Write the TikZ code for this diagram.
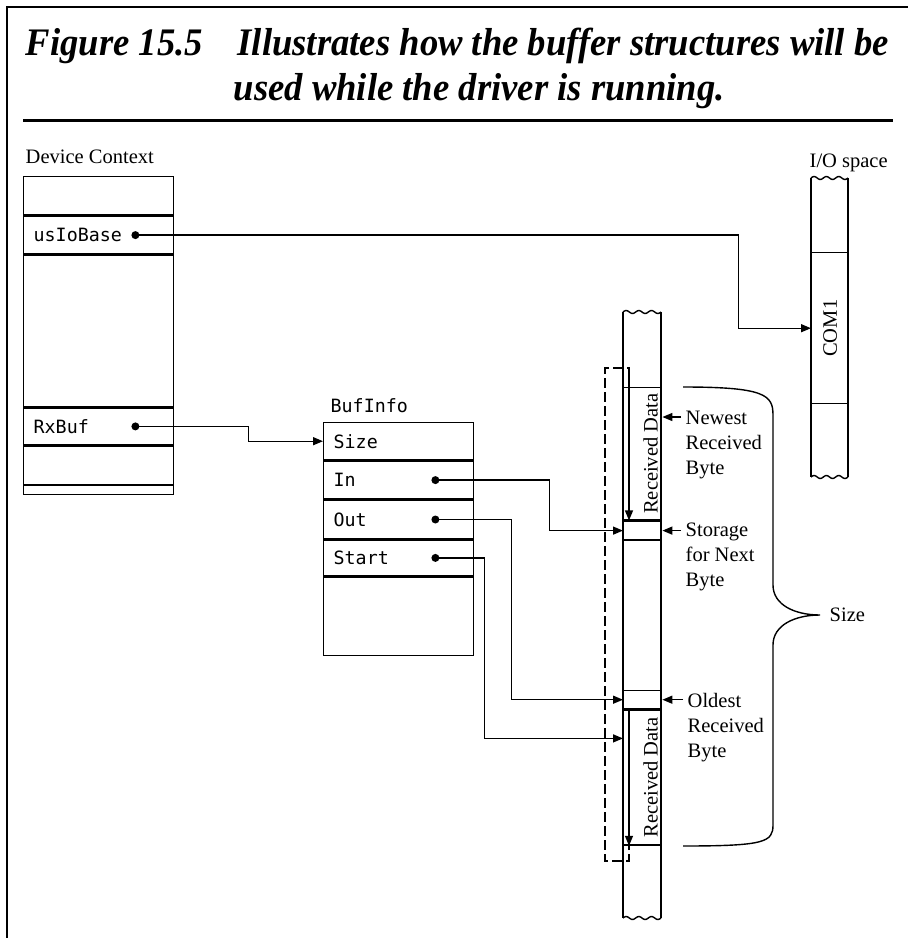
\documentclass[tikz,border=0pt]{standalone}
\usepackage{fontspec}
\setmainfont{Liberation Serif}
\setmonofont{DejaVu Sans Mono}
\newfontfamily\titlefont{Liberation Serif}[FakeStretch=0.94]
\usetikzlibrary{positioning, arrows.meta, calc}
\tikzset{
  cell/.style={draw, rectangle, minimum width=150pt, text width=130pt, align=left, inner xsep=10pt, inner ysep=0pt, font=\ttfamily\fontsize{18.3}{22}\selectfont},
  ribcell/.style={draw, rectangle, minimum width=38pt, inner sep=0pt},
  lbl/.style={font=\fontsize{20.5}{25}\selectfont, inner sep=0pt},
  ttlbl/.style={font=\ttfamily\fontsize{18.3}{22}\selectfont, inner sep=0pt},
  titletxt/.style={font=\titlefont\bfseries\itshape\fontsize{39}{44}\selectfont, inner sep=0pt},
  ptr/.style={->},
  brk/.style={dash pattern=on 10pt off 4pt}
}
\newcommand{\ptrdot}[1]{\fill (#1) circle (4pt);}
\newcommand{\wavyedge}[3]{\draw plot[domain=0:#3, samples=31, smooth] ({#1+\x}, {#2-1.5*sin(\x/#3*1080)});}

\begin{document}
\begin{tikzpicture}[x=1pt, y=-1pt, line width=1.4pt, >={Triangle[length=10pt, width=8pt]}]
    \useasboundingbox (0,0) rectangle (908,938);

    % 1. Marco y titulo
    \draw[line width=2.5pt] (7,938) -- (7,7) -- (908,7);
    \node[titletxt, anchor=base west] (figNum) at (25,55) {Figure 15.5};
    \node[titletxt, anchor=base west] (capA) at (237,55) {Illustrates how the buffer structures will be};
    \node[titletxt, anchor=base west] (capB) at (233,100) {used while the driver is running.};
    \draw[line width=3pt] (23,120) -- (893,120);

    % 2. Device Context
    \node[lbl, anchor=base west] (dcLbl) at (25,163) {Device Context};
    \node[cell, minimum height=38pt, anchor=north west] (dcTop) at (23,176) {};
    \node[cell, minimum height=38pt, below=0pt of dcTop] (dcIo) {usIoBase};
    \node[cell, minimum height=151pt, below=0pt of dcIo] (dcGap) {};
    \node[cell, minimum height=37pt, below=0pt of dcGap] (dcRx) {RxBuf};
    \node[cell, minimum height=38pt, below=0pt of dcRx] (dcEmptyA) {};
    \node[cell, minimum height=9pt, below=0pt of dcEmptyA] (dcEmptyB) {};
    \coordinate (ioDot) at ($(dcIo.east)+(-39,0)$);
    \coordinate (rxDot) at ($(dcRx.east)+(-39,0)$);

    % 3. BufInfo
    \node[ttlbl, anchor=base west] (biLbl) at (330,412) {BufInfo};
    \node[cell, minimum height=37pt, anchor=north west] (biSize) at (323,422) {Size};
    \node[cell, minimum height=38pt, below=0pt of biSize] (biIn) {In};
    \node[cell, minimum height=38pt, below=0pt of biIn] (biOut) {Out};
    \node[cell, minimum height=36pt, below=0pt of biOut] (biStart) {Start};
    \node[cell, minimum height=78pt, below=0pt of biStart] (biRest) {};
    \coordinate (inDot) at ($(biIn.east)+(-39,0)$);
    \coordinate (outDot) at ($(biOut.east)+(-39,0)$);
    \coordinate (startDot) at ($(biStart.east)+(-39,0)$);

    % 4. Buffer circular
    \node[ribcell, minimum height=132pt, anchor=north west] (rdNew) at (623,387) {};
    \node[ribcell, minimum height=19pt, below=0pt of rdNew] (slotNext) {};
    \node[ribcell, minimum height=18pt, anchor=north west] (slotOld) at (623,690) {};
    \node[ribcell, minimum height=135pt, below=0pt of slotOld] (rdOld) {};
    \draw (623,312) -- (623,918) (661,312) -- (661,918);
    \wavyedge{623}{312}{38}
    \wavyedge{623}{918}{38}
    \node[lbl, rotate=90] (rdNewTxt) at ($(rdNew.center)+(8,0)$) {Received Data};
    \node[lbl, rotate=90] (rdOldTxt) at ($(rdOld.center)+(8,0)$) {Received Data};

    \coordinate (newTop) at (629,376);
    \coordinate (oldTop) at ($(rdOld.north west)+(6,0)$);
    \draw[ptr] (newTop) -- (newTop |- slotNext.north);
    \draw[ptr] (oldTop) -- (oldTop |- rdOld.south);
    \draw[brk] (newTop) -- (629,368) -- (605,368) -- (605,861) -- (629,861) -- (629,843);

    % etiquetas de la derecha
    \node[lbl, anchor=north west, align=left] (newLbl) at (685,410) {Newest\\Received\\Byte};
    \node[lbl, anchor=north west, align=left] (nextLbl) at (685,522) {Storage\\for Next\\Byte};
    \node[lbl, anchor=north west, align=left] (oldLbl) at (687,693) {Oldest\\Received\\Byte};
    \coordinate (newTip) at ($(rdNew.north east)+(0,30)$);
    \draw[ptr] ([xshift=-4pt]newLbl.west |- newTip) -- (newTip);
    \draw[ptr] ([xshift=-4pt]nextLbl.west |- slotNext.east) -- (slotNext.east);
    \draw[ptr] ([xshift=-4pt]oldLbl.west |- slotOld.east) -- (slotOld.east);

    % llave de Size
    \coordinate (braceTip) at (820,615);
    \draw (683,387) .. controls (765,387) and (773,395) .. (773,415) -- (773,585)
          .. controls (773,605) and (795,615) .. (braceTip)
          .. controls (795,615) and (773,625) .. (773,645) -- (773,825)
          .. controls (773,842) and (765,846) .. (683,846);
    \node[lbl, anchor=west] (sizeLbl) at ($(braceTip)+(9,0)$) {Size};

    % 5. I/O space
    \node[lbl, anchor=base west] (ioLbl) at (809,167) {I/O space};
    \node[ribcell, minimum width=37pt, minimum height=151pt, anchor=north west] (com1) at (811,252) {};
    \node[lbl, rotate=90] (com1Txt) at (com1.center) {COM1};
    \draw (811,178) -- (811,477) (848,178) -- (848,477);
    \wavyedge{811}{178}{37}
    \wavyedge{811}{477}{37}

    % 6. Conexiones
    \path (ioDot) ++(603,0) coordinate (ioBend);
    \path (rxDot) ++(113,0) coordinate (rxBend);
    \path (inDot) ++(114,0) coordinate (inBend);
    \path (outDot) ++(76,0) coordinate (outBend);
    \path (startDot) ++(49,0) coordinate (startBend);
    \coordinate (oldIn) at ($(rdOld.north west)+(0,29)$);

    \draw[ptr] (ioDot) -- (ioBend) |- (com1.west);
    \draw[ptr] (rxDot) -- (rxBend) |- (biSize.west);
    \draw[ptr] (inDot) -- (inBend) |- (slotNext.west);
    \draw[ptr] (outDot) -- (outBend) |- (slotOld.west);
    \draw[ptr] (startDot) -- (startBend) |- (oldIn);
    \foreach \d in {ioDot, rxDot, inDot, outDot, startDot} {\ptrdot{\d}}

\end{tikzpicture}
\end{document}
